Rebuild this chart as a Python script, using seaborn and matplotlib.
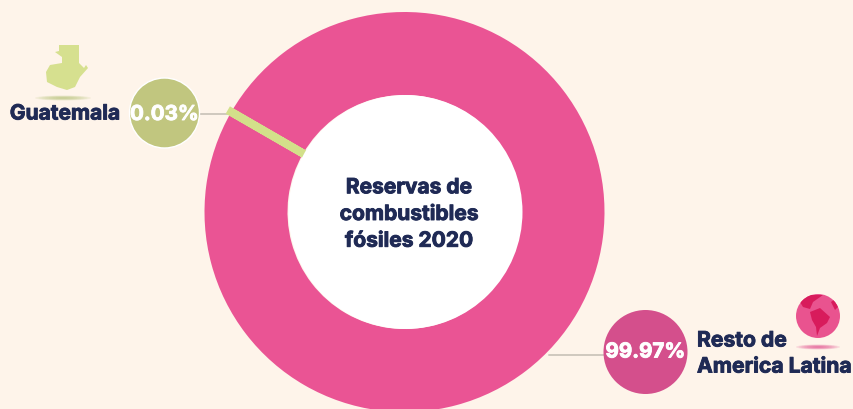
import matplotlib
matplotlib.use("Agg")
import matplotlib.pyplot as plt
import matplotlib.patheffects as pe
from matplotlib.patches import Circle, Ellipse, Polygon, Wedge
import seaborn as sns

# Shares of Latin American fossil fuel reserves, 2020
regions = ["Guatemala", "Resto de\nAmerica Latina"]
shares = [0.03, 99.97]
share_labels = ["0.03%", "99.97%"]
title_text = "Reservas de\ncombustibles\nfósiles 2020"

BG = "#FEF4EA"
NAVY = "#1F2A55"
slice_colors = sns.color_palette(["#D3E08A", "#EA5494"])
badge_colors = ["#C1C67F", "#D44F8C"]

sns.set_theme(style="white")
plt.rcParams["font.family"] = ["Inter", "DejaVu Sans"]

W, H = 854, 409
fig = plt.figure(figsize=(W / 100, H / 100), dpi=100, facecolor=BG)
ax = fig.add_axes([0, 0, 1, 1], facecolor=BG)


def up(y):
    """Convert a top-down pixel row into the axes' y value."""
    return H - y


def heavy(color, width=0.65):
    """Stroke that thickens the bold face to an extra-bold look."""
    return [pe.withStroke(linewidth=width, foreground=color)]


# Donut; the thin slice gets a stroke so it remains visible at this size
cx, cy, R, r_in = 404.5, up(212), 200, 117
wedges, _ = ax.pie(
    shares, colors=slice_colors, startangle=149.95, radius=R, center=(cx, cy),
    frame=True, wedgeprops=dict(width=R - r_in, linewidth=0),
)
ring = Wedge((cx, cy), R, 0, 360, width=R - r_in, transform=ax.transData)
wedges[0].set(edgecolor=slice_colors[0], linewidth=5.8, zorder=3)
wedges[0].set_clip_path(ring)
ax.add_patch(Circle((cx + 1, cy), r_in, fc="white", ec="none", zorder=4))
ax.text(cx + 4.5, up(214), title_text, ha="center", va="center", color=NAVY,
        fontsize=15.1, fontweight="bold", linespacing=1.42, zorder=5,
        path_effects=heavy(NAVY))

# Leader lines
ax.plot([198, 233], [up(113.5)] * 2, color="#CFC8BE", lw=1.4, zorder=1)
ax.plot([549, 606], [up(355)] * 2, color="#CFC8BE", lw=1.4, zorder=1)

# Value badges
ax.add_patch(Circle((164.5, up(113)), 35, fc=badge_colors[0], ec="white", lw=1, zorder=5))
ax.add_patch(Circle((645.5, up(352)), 42, fc=badge_colors[1], ec="none", zorder=5))
ax.text(164.5, up(115), share_labels[0], ha="center", va="center", color="white",
        fontsize=14.8, fontweight="bold", zorder=6, path_effects=heavy("white"))
ax.text(645.5, up(352.5), share_labels[1], ha="center", va="center", color="white",
        fontsize=14.8, fontweight="bold", zorder=6, path_effects=heavy("white"))

# Category labels
ax.text(65, up(113.5), regions[0], ha="center", va="center", color=NAVY,
        fontsize=15.1, fontweight="bold", path_effects=heavy(NAVY))
ax.text(697, up(353.5), regions[1], ha="left", va="center", color=NAVY,
        fontsize=15.2, fontweight="bold", linespacing=1.38, path_effects=heavy(NAVY))

# Soft shadows below the two icons
for (sx, sy, sw, col) in [(63, 98, 56, "#B9C47A"), (818, 347, 44, "#E4508F")]:
    for k in range(8):
        f = 1 - k / 8
        ax.add_patch(Ellipse((sx, up(sy)), sw * f, 5 * f, fc=col, ec="none", alpha=0.16))

# Outline of Guatemala
gt_x = [59, 79, 79, 84, 86, 88, 80, 75, 67, 57, 47, 46, 50, 62, 62, 55, 59]
gt_y = [45, 45, 63, 68, 65, 68, 77, 87, 90, 87, 82, 72, 65, 63, 57, 52, 51]
ax.add_patch(Polygon([(x, up(y)) for x, y in zip(gt_x, gt_y)], fc="#D6E08F", ec="none"))

# Globe icon with simplified landmasses
globe = Circle((818, up(316)), 22, fc="#E9538F", ec="none", zorder=2)
ax.add_patch(globe)
land = [
    ([810, 820, 830, 827, 820, 817, 816, 812], [312, 308, 317, 323, 328, 336, 327, 320]),
    ([800, 807, 823, 813, 810, 803], [302, 295, 295, 302, 309, 307]),
    ([831, 835, 838, 835], [302, 299, 307, 310]),
]
for lx, ly in land:
    p = Polygon([(x, up(y)) for x, y in zip(lx, ly)], fc="#D81B5C", ec="none", zorder=3)
    ax.add_patch(p)
    p.set_clip_path(globe)

ax.set_xlim(0, W)
ax.set_ylim(0, H)
ax.set_aspect("equal")
ax.axis("off")
fig.savefig("out.png", dpi=100, facecolor=BG)
